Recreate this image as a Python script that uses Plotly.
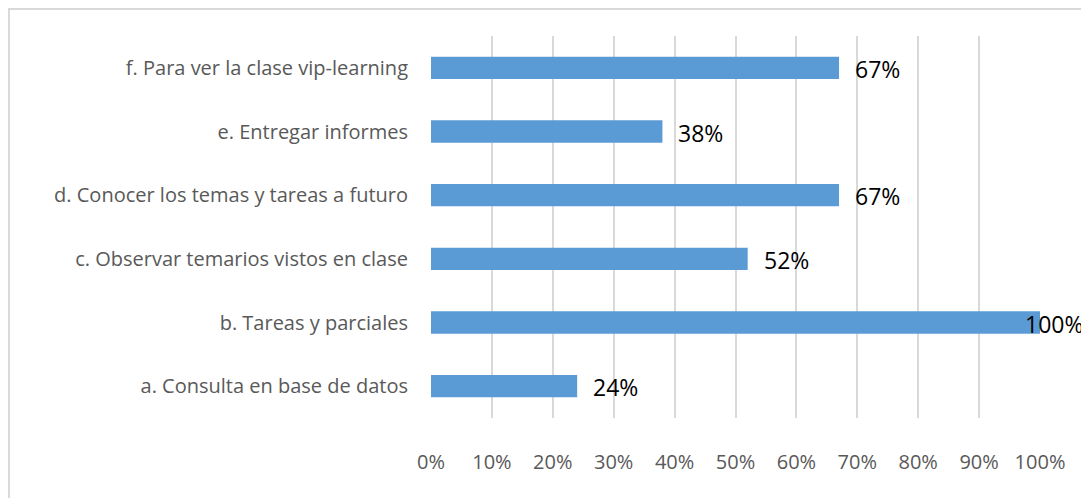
import plotly.graph_objects as go

categories = [
    "a. Consulta en base de datos",
    "b. Tareas y parciales",
    "c. Observar temarios vistos en clase",
    "d. Conocer los temas y tareas a futuro",
    "e. Entregar informes",
    "f. Para ver la clase vip-learning",
]
values = [0.24, 1.00, 0.52, 0.67, 0.38, 0.67]
value_labels = ["24%", "100%", "52%", "67%", "38%", "67%"]
tick_vals = [0, 0.1, 0.2, 0.3, 0.4, 0.5, 0.6, 0.7, 0.8, 0.9, 1.0]
tick_text = ["0%", "10%", "20%", "30%", "40%", "50%", "60%", "70%", "80%", "90%", "100%"]

BAR_COLOR = "#5b9bd5"
FONT = "Open Sans, Liberation Sans, sans-serif"

fig = go.Figure()
fig.add_trace(go.Bar(
    y=categories, x=values, orientation="h",
    marker=dict(color=BAR_COLOR, line=dict(width=0)),
    width=0.35,
    hoverinfo="skip",
))

# data labels past the bar end (Excel keeps the 100% one inside the chart)
for cat, v, lab in zip(categories, values, value_labels):
    fig.add_annotation(
        x=v, y=cat, text=lab, showarrow=False,
        xanchor="left", xshift=14 if v < 0.95 else -17, yshift=-1,
        font=dict(family=FONT, size=23, color="#000000"),
    )

# outer chart border (page body margin already offsets the figure by 8px)
fig.add_shape(
    type="rect", xref="paper", yref="paper",
    x0=-0.693, x1=1.2, y0=-0.3, y1=1.071,
    line=dict(color="#d9d9d9", width=2), layer="below",
)

fig.update_xaxes(
    range=[0, 1], tickvals=tick_vals, ticktext=tick_text,
    showgrid=True, gridcolor="#d9d9d9", gridwidth=2,
    zeroline=False, showline=False, ticks="", ticklen=0,
    tickfont=dict(family=FONT, size=20, color="#595959"),
    ticklabelstandoff=30,
)
fig.update_yaxes(
    showgrid=False, zeroline=False, showline=False, ticks="",
    tickfont=dict(family=FONT, size=20, color="#595959"),
    ticklabelstandoff=22,
)

fig.update_layout(
    width=1081, height=490,
    margin=dict(l=423, r=49, t=28, b=80),
    plot_bgcolor="white", paper_bgcolor="white",
    showlegend=False, bargap=0.65,
)

fig.write_html("out.html")
